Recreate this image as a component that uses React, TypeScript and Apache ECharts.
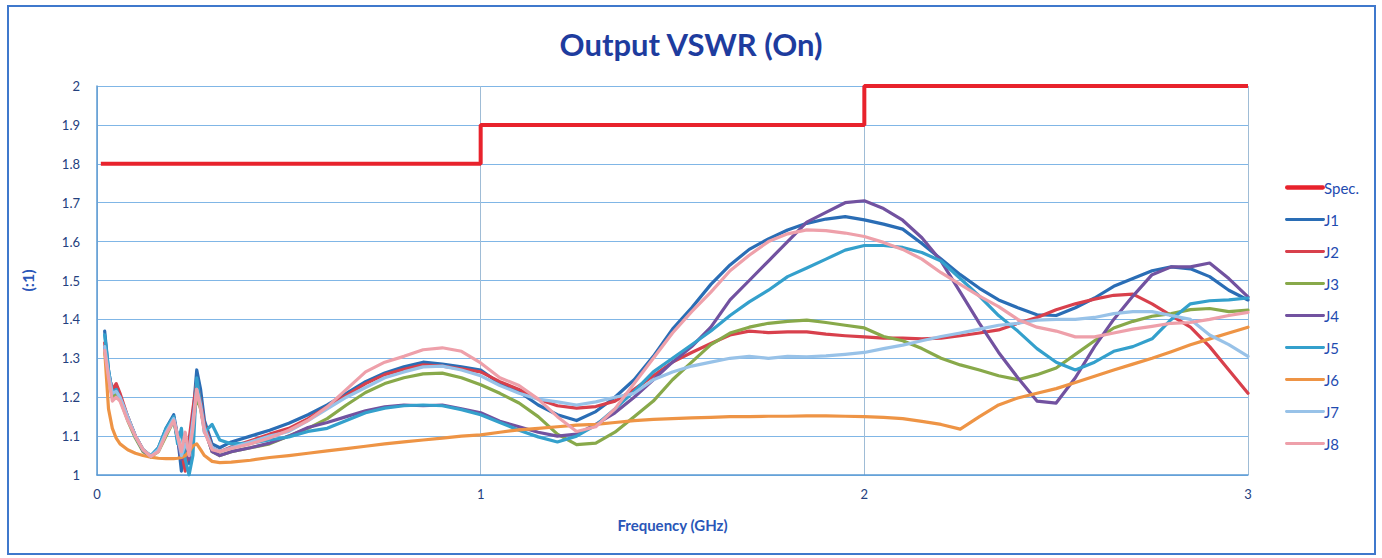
import React, { useEffect, useRef } from "react";
import * as echarts from "echarts";

const freq = [
  0.02, 0.03, 0.04, 0.05, 0.06, 0.08, 0.10, 0.12, 0.14, 0.16, 0.18, 0.20, 0.21, 0.22, 0.23, 0.24, 0.25, 0.26, 0.27, 0.28, 0.30, 0.32,
  0.35, 0.40, 0.45, 0.50, 0.55, 0.60, 0.65, 0.70, 0.75,
  0.80, 0.85, 0.90, 0.95, 1.00, 1.05, 1.10, 1.15, 1.20,
  1.25, 1.30, 1.35, 1.40, 1.45, 1.50, 1.55, 1.60, 1.65,
  1.70, 1.75, 1.80, 1.85, 1.90, 1.95, 2.00, 2.05, 2.10,
  2.15, 2.20, 2.25, 2.30, 2.35, 2.40, 2.45, 2.50, 2.55,
  2.60, 2.65, 2.70, 2.75, 2.80, 2.85, 2.90, 2.95, 3.00,
];

const specFreq = [0.01, 1.0, 1.0, 2.0, 2.0, 3.0];
const spec = [1.8, 1.8, 1.9, 1.9, 2.0, 2.0];

const j1 = [
  1.37, 1.27, 1.21, 1.225, 1.20, 1.15, 1.10, 1.065, 1.048, 1.07, 1.12, 1.155, 1.10, 1.01, 1.07, 1.03, 1.15, 1.27, 1.22, 1.14, 1.08, 1.07,
  1.085, 1.10, 1.115, 1.133, 1.155, 1.18, 1.21, 1.24, 1.262,
  1.278, 1.29, 1.285, 1.278, 1.27, 1.235, 1.214, 1.18, 1.155,
  1.14, 1.163, 1.20, 1.245, 1.305, 1.375, 1.43, 1.49, 1.54,
  1.58, 1.607, 1.63, 1.647, 1.658, 1.664, 1.656, 1.645, 1.632,
  1.595, 1.555, 1.515, 1.48, 1.45, 1.43, 1.412, 1.41, 1.43,
  1.455, 1.485, 1.505, 1.525, 1.535, 1.53, 1.51, 1.475, 1.45,
];

const j2 = [
  1.34, 1.26, 1.22, 1.235, 1.21, 1.15, 1.10, 1.065, 1.048, 1.065, 1.11, 1.145, 1.10, 1.06, 1.01, 1.09, 1.17, 1.24, 1.19, 1.13, 1.07, 1.06,
  1.072, 1.088, 1.105, 1.12, 1.145, 1.175, 1.205, 1.235, 1.258,
  1.272, 1.283, 1.28, 1.273, 1.265, 1.24, 1.22, 1.195, 1.178,
  1.172, 1.176, 1.19, 1.22, 1.255, 1.29, 1.315, 1.338, 1.36,
  1.37, 1.366, 1.368, 1.368, 1.362, 1.358, 1.355, 1.352, 1.352,
  1.35, 1.352, 1.358, 1.365, 1.373, 1.39, 1.405, 1.425, 1.44,
  1.452, 1.462, 1.465, 1.44, 1.41, 1.38, 1.33, 1.27, 1.21,
];

const j3 = [
  1.32, 1.25, 1.20, 1.21, 1.195, 1.14, 1.095, 1.06, 1.047, 1.06, 1.10, 1.14, 1.09, 1.05, 1.08, 1.05, 1.13, 1.20, 1.17, 1.12, 1.06, 1.05,
  1.06, 1.07, 1.08, 1.10, 1.12, 1.145, 1.18, 1.212, 1.235,
  1.25, 1.26, 1.262, 1.25, 1.232, 1.21, 1.185, 1.15, 1.105,
  1.078, 1.082, 1.11, 1.15, 1.19, 1.245, 1.29, 1.335, 1.365,
  1.38, 1.39, 1.395, 1.398, 1.392, 1.385, 1.378, 1.356, 1.345,
  1.325, 1.30, 1.283, 1.27, 1.255, 1.245, 1.258, 1.275, 1.31,
  1.345, 1.378, 1.395, 1.408, 1.415, 1.425, 1.428, 1.42, 1.424,
];

const j4 = [
  1.33, 1.26, 1.21, 1.22, 1.20, 1.145, 1.10, 1.063, 1.047, 1.065, 1.115, 1.148, 1.09, 1.04, 1.10, 1.04, 1.15, 1.22, 1.18, 1.12, 1.06, 1.05,
  1.06, 1.07, 1.082, 1.10, 1.122, 1.135, 1.15, 1.165, 1.175,
  1.18, 1.178, 1.18, 1.17, 1.16, 1.138, 1.124, 1.11, 1.10,
  1.105, 1.13, 1.16, 1.20, 1.245, 1.29, 1.33, 1.38, 1.45,
  1.50, 1.55, 1.60, 1.65, 1.675, 1.70, 1.705, 1.685, 1.655,
  1.61, 1.55, 1.47, 1.39, 1.315, 1.25, 1.19, 1.185, 1.25,
  1.33, 1.40, 1.46, 1.515, 1.535, 1.535, 1.545, 1.505, 1.458,
];

const j5 = [
  1.36, 1.27, 1.21, 1.22, 1.195, 1.145, 1.10, 1.065, 1.05, 1.07, 1.12, 1.15, 1.08, 1.12, 1.04, 1.00, 1.05, 1.25, 1.18, 1.11, 1.13, 1.09,
  1.08, 1.082, 1.09, 1.098, 1.112, 1.12, 1.14, 1.16, 1.172,
  1.178, 1.18, 1.178, 1.168, 1.155, 1.135, 1.115, 1.098, 1.085,
  1.10, 1.128, 1.17, 1.215, 1.265, 1.30, 1.335, 1.37, 1.41,
  1.445, 1.475, 1.51, 1.532, 1.555, 1.578, 1.59, 1.59, 1.585,
  1.572, 1.55, 1.505, 1.46, 1.41, 1.37, 1.325, 1.29, 1.27,
  1.29, 1.318, 1.33, 1.35, 1.40, 1.44, 1.448, 1.45, 1.455,
];

const j6 = [
  1.32, 1.17, 1.12, 1.095, 1.08, 1.065, 1.056, 1.05, 1.046, 1.043, 1.042, 1.042, 1.043, 1.045, 1.05, 1.06, 1.075, 1.08, 1.065, 1.05, 1.035, 1.032,
  1.033, 1.038, 1.045, 1.05, 1.056, 1.062, 1.068, 1.074, 1.08,
  1.085, 1.09, 1.095, 1.10, 1.103, 1.11, 1.116, 1.12, 1.124,
  1.128, 1.13, 1.135, 1.14, 1.143, 1.145, 1.147, 1.148, 1.15,
  1.15, 1.151, 1.151, 1.152, 1.152, 1.151, 1.15, 1.148, 1.145,
  1.138, 1.13, 1.118, 1.15, 1.18, 1.198, 1.21, 1.222, 1.238,
  1.254, 1.27, 1.285, 1.30, 1.317, 1.335, 1.35, 1.365, 1.38,
];

const j7 = [
  1.33, 1.26, 1.21, 1.215, 1.20, 1.15, 1.10, 1.065, 1.048, 1.065, 1.11, 1.145, 1.10, 1.05, 1.08, 1.06, 1.14, 1.22, 1.18, 1.12, 1.07, 1.06,
  1.07, 1.085, 1.10, 1.112, 1.14, 1.17, 1.20, 1.225, 1.25,
  1.265, 1.278, 1.28, 1.27, 1.255, 1.23, 1.21, 1.195, 1.188,
  1.18, 1.188, 1.20, 1.21, 1.245, 1.265, 1.28, 1.29, 1.30,
  1.305, 1.30, 1.305, 1.304, 1.306, 1.31, 1.315, 1.325, 1.334,
  1.345, 1.356, 1.365, 1.375, 1.385, 1.39, 1.398, 1.40, 1.40,
  1.405, 1.415, 1.42, 1.42, 1.41, 1.40, 1.36, 1.335, 1.305,
];

const j8 = [
  1.32, 1.25, 1.19, 1.20, 1.19, 1.14, 1.10, 1.065, 1.048, 1.06, 1.105, 1.14, 1.10, 1.06, 1.11, 1.05, 1.12, 1.22, 1.17, 1.11, 1.065, 1.06,
  1.068, 1.08, 1.095, 1.115, 1.14, 1.175, 1.22, 1.265, 1.29,
  1.305, 1.322, 1.327, 1.318, 1.288, 1.25, 1.23, 1.195, 1.15,
  1.112, 1.124, 1.17, 1.235, 1.30, 1.365, 1.42, 1.47, 1.525,
  1.565, 1.60, 1.62, 1.63, 1.628, 1.622, 1.613, 1.598, 1.58,
  1.555, 1.52, 1.49, 1.46, 1.433, 1.40, 1.38, 1.37, 1.355,
  1.355, 1.365, 1.375, 1.382, 1.39, 1.392, 1.40, 1.41, 1.418,
];

const seriesNames = ["Spec.", "J1", "J2", "J3", "J4", "J5", "J6", "J7", "J8"];
const seriesColors = ["#e8222c", "#2a6db5", "#d8404c", "#88a94a", "#7252a0", "#34a0cc", "#ee9445", "#98c2e8", "#eea0aa"];
const jData = [j1, j2, j3, j4, j5, j6, j7, j8];

const FONT = "Lato, 'Open Sans', sans-serif";
// thin line icon centred in a 40x14 box (tiny invisible anchors keep the box size)
const LINE_ICON_THIN = "path://M0,0L0.01,0L0.01,0.01L0,0.01Z M1,5.5L39,5.5A1.5,1.5,0,0,1,39,8.5L1,8.5A1.5,1.5,0,0,1,1,5.5Z M39.99,13.99L40,13.99L40,14L39.99,14Z";
const LINE_ICON_THICK = "path://M0,0L0.01,0L0.01,0.01L0,0.01Z M1.5,4.8L38.5,4.8A2.2,2.2,0,0,1,38.5,9.2L1.5,9.2A2.2,2.2,0,0,1,1.5,4.8Z M39.99,13.99L40,13.99L40,14L39.99,14Z";

export default function App() {
  const ref = useRef<HTMLDivElement>(null);

  useEffect(() => {
    if (!ref.current) return;
    const chart = echarts.init(ref.current, undefined, { renderer: "svg" });

    const series: any[] = [
      {
        name: seriesNames[0],
        type: "line",
        data: specFreq.map((f, i) => [f, spec[i]]),
        symbol: "none",
        lineStyle: { width: 4, color: seriesColors[0] },
        itemStyle: { color: seriesColors[0] },
        z: 3,
      },
      ...jData.map((arr, k) => ({
        name: seriesNames[k + 1],
        type: "line",
        data: freq.map((f, i) => [f, arr[i]]),
        symbol: "none",
        lineStyle: { width: 3.2, color: seriesColors[k + 1], cap: "round", join: "round" },
        itemStyle: { color: seriesColors[k + 1] },
        z: 2,
      })),
    ];

    chart.setOption({
      animation: false,
      backgroundColor: "#ffffff",
      textStyle: { fontFamily: FONT },
      title: {
        text: "Output VSWR (On)",
        left: "center",
        top: 23,
        textStyle: { fontFamily: FONT, fontSize: 31, fontWeight: "bold", color: "#1e3c9e" },
      },
      legend: {
        orient: "vertical",
        left: 1280,
        top: 175,
        itemWidth: 40,
        itemHeight: 14,
        itemGap: 17,
        itemStyle: { borderWidth: 0 },
        data: seriesNames.map((n, i) => ({
          name: n,
          icon: i === 0 ? LINE_ICON_THICK : LINE_ICON_THIN,
          itemStyle: { color: seriesColors[i] },
        })),
        textStyle: { fontFamily: FONT, fontSize: 15, color: "#1f4bb0", padding: [0, 0, 0, -6] },
        selectedMode: false,
      },
      grid: { left: 97, right: 134, top: 86, bottom: 83, containLabel: false },
      xAxis: {
        type: "value",
        min: 0,
        max: 3,
        interval: 1,
        name: "Frequency (GHz)",
        nameLocation: "middle",
        nameGap: 42,
        nameTextStyle: { fontFamily: FONT, fontSize: 15, fontWeight: "bold", color: "#2a56b8" },
        axisLine: { show: true, lineStyle: { color: "#5b9bd5", width: 1.5 } },
        axisTick: { show: false },
        axisLabel: { fontFamily: FONT, fontSize: 13, color: "#24407e", margin: 12 },
        splitLine: { show: true, lineStyle: { color: "#9fbcd6", width: 1 } },
      },
      yAxis: {
        type: "value",
        min: 1,
        max: 2,
        interval: 0.1,
        name: "(:1)",
        nameLocation: "middle",
        nameGap: 62,
        nameRotate: 90,
        nameTextStyle: { fontFamily: FONT, fontSize: 16, fontWeight: "bold", color: "#2a56b8" },
        axisLine: { show: true, lineStyle: { color: "#5b9bd5", width: 1.5 } },
        axisTick: { show: false },
        axisLabel: {
          fontFamily: FONT,
          fontSize: 13,
          color: "#24407e",
          margin: 17,
          formatter: (v: number) => String(Math.round(v * 10) / 10),
        },
        splitLine: { show: true, lineStyle: { color: "#80b6e6", width: 1.2 } },
      },
      graphic: [
        {
          type: "rect",
          shape: { x: 8, y: 6, width: 1367, height: 548 },
          style: { fill: "none", stroke: "#3f78cc", lineWidth: 2 },
          silent: true,
        },
      ],
      series,
    });

    return () => chart.dispose();
  }, []);

  return (
    <div
      ref={ref}
      style={{ position: "fixed", left: 0, top: 0, width: 1382, height: 558, background: "#fff" }}
    />
  );
}
